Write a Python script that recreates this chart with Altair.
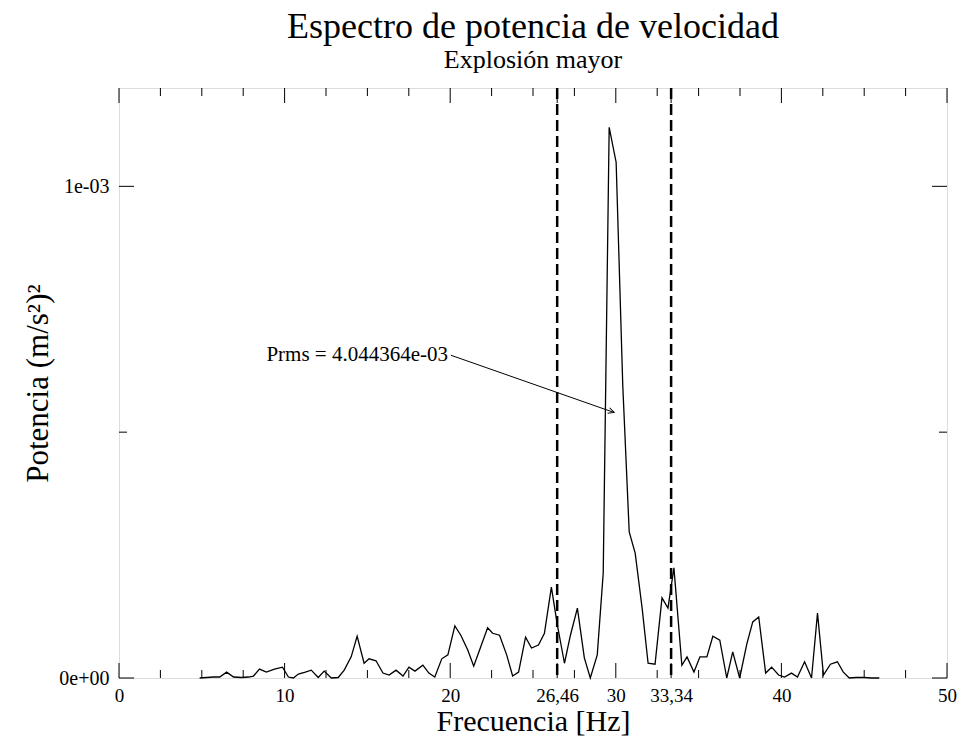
import altair as alt
import pandas as pd

# ---- data ----
freq = [4.87, 5.29, 5.72, 6.08, 6.50, 6.92, 7.40, 7.82, 8.12, 8.48, 8.90, 9.39, 9.87,
        10.23, 10.53, 10.83, 11.25, 11.61, 12.03, 12.39, 12.82, 13.24, 13.60, 14.02,
        14.38, 14.80, 15.10, 15.52, 15.94, 16.31, 16.73, 17.15, 17.51, 17.87, 18.35,
        18.71, 19.07, 19.49, 19.86, 20.28, 20.64, 21.06, 21.42, 21.84, 22.26, 22.56,
        22.98, 23.41, 23.77, 24.13, 24.55, 24.91, 25.33, 25.69, 26.11, 26.47, 26.90,
        27.26, 27.68, 28.10, 28.46, 28.88, 29.24, 29.60, 30.02, 30.42, 30.81, 31.17,
        31.59, 31.95, 32.37, 32.79, 33.15, 33.51, 33.99, 34.30, 34.72, 35.08, 35.50,
        35.86, 36.28, 36.70, 37.06, 37.48, 37.91, 38.27, 38.63, 39.05, 39.41, 39.83,
        40.19, 40.61, 40.97, 41.40, 41.82, 42.18, 42.54, 42.96, 43.38, 43.74, 44.10,
        44.52, 45.01, 45.43, 45.91]
# power in units of 1e-5 (m/s^2)^2
power_e5 = [0.0, 0.1, 0.2, 0.2, 1.2, 0.2, 0.1, 0.2, 0.4, 1.8, 1.2, 1.8, 2.2,
            0.2, 0.0, 0.8, 1.2, 1.6, 0.1, 1.4, 0.0, 0.1, 1.6, 4.3,
            8.5, 3.0, 3.9, 3.5, 1.0, 0.6, 1.6, 0.4, 2.2, 1.4, 2.6,
            1.0, 0.2, 3.9, 4.7, 10.6, 8.7, 5.7, 2.4, 6.3, 10.2, 9.1,
            8.7, 4.7, 0.4, 1.2, 8.3, 6.1, 6.7, 9.1, 18.5, 10.8, 3.0,
            8.7, 14.2, 4.1, 0.0, 4.7, 21.3, 112.0, 104.9, 59.6, 29.7, 25.4,
            14.2, 3.0, 2.8, 16.3, 14.2, 22.4, 2.6, 4.3, 1.2, 4.3, 4.3,
            8.5, 7.7, 0.0, 5.3, 0.0, 6.9, 11.4, 12.4, 1.0, 2.2, 0.6,
            0.2, 1.0, 0.2, 3.3, 0.0, 13.2, 0.6, 2.8, 3.3, 1.2, 0.0,
            0.1, 0.1, 0.0, 0.0]

band_edges = [26.46, 33.34]
x_label_values = [0, 10, 20, 26.46, 30, 33.34, 40, 50]
x_minor_ticks = [2.5, 5, 7.5, 12.5, 15, 17.5, 22.5, 25, 27.5, 32.5, 35, 37.5, 42.5, 45, 47.5]
x_major_ticks = [0, 10, 20, 26.46, 30, 33.34, 40, 50]
y_label_values = [0, 0.001]
y_major_ticks = [0, 0.001]
y_minor_ticks = [0.0005]

annot_text = "Prms = 4.044364e-03"
annot_pos = {"freq": 8.90, "power": 6.565e-4}
arrow_start = {"freq": 20.04, "power": 6.565e-4}
arrow_end = {"freq": 29.90, "power": 5.40e-4}
arrow_angle = 19.3

FONT = "Liberation Serif, Times New Roman, serif"
W, H = 828, 590

df = pd.DataFrame({"freq": freq, "power": [v * 1e-5 for v in power_e5]})

xscale = alt.Scale(domain=[0, 50], nice=False, zero=False)
yscale = alt.Scale(domain=[0, 0.0012], nice=False)

xaxis = alt.Axis(
    values=x_label_values,
    labelExpr="datum.value == 26.46 ? '26,46' : datum.value == 33.34 ? '33,34' : format(datum.value, 'd')",
    tickSize=0, domain=False, grid=False,
    labelFont=FONT, labelFontSize=19, labelColor="black", labelPadding=8,
    title="Frecuencia [Hz]", titleFont=FONT, titleFontSize=30, titleFontWeight="normal",
    titleColor="black", titlePadding=1, labelFlush=False, labelOverlap=False,
)
yaxis = alt.Axis(
    values=y_label_values,
    labelExpr="datum.value == 0 ? '0e+00' : '1e-03'",
    tickSize=0, domain=False, grid=False,
    labelFont=FONT, labelFontSize=20, labelColor="black", labelPadding=10,
    title="Potencia (m/s²)²", titleFont=FONT, titleFontSize=31, titleFontWeight="normal",
    titleColor="black", titlePadding=4, labelFlush=False, labelOverlap=False,
)

X = alt.X("freq:Q", scale=xscale, axis=xaxis)
Y = alt.Y("power:Q", scale=yscale, axis=yaxis)

line = alt.Chart(df).mark_line(color="black", strokeWidth=1.3).encode(x=X, y=Y)

bands = alt.Chart(pd.DataFrame({"freq": band_edges})).mark_rule(
    color="black", strokeWidth=2.5, strokeDash=[11, 5]
).encode(x=X)

def xticks(vals, length):
    d = pd.DataFrame({"freq": vals})
    bottom = alt.Chart(d).mark_rule(color="black", strokeWidth=1).encode(
        x=X, y=alt.value(H), y2=alt.value(H - length))
    top = alt.Chart(d).mark_rule(color="black", strokeWidth=1).encode(
        x=X, y=alt.value(0), y2=alt.value(length))
    return [bottom, top]

def yticks(vals, length):
    d = pd.DataFrame({"power": vals})
    left = alt.Chart(d).mark_rule(color="black", strokeWidth=1).encode(
        y=Y, x=alt.value(0), x2=alt.value(length))
    right = alt.Chart(d).mark_rule(color="black", strokeWidth=1).encode(
        y=Y, x=alt.value(W), x2=alt.value(W - length))
    return [left, right]

tick_layers = xticks(x_minor_ticks, 8) + xticks(x_major_ticks, 15) + \
    yticks(y_minor_ticks, 8) + yticks(y_major_ticks, 15)

annot = alt.Chart(pd.DataFrame([dict(annot_pos, label=annot_text)])).mark_text(
    font=FONT, fontSize=21, color="black", align="left", baseline="middle"
).encode(x=X, y=Y, text="label:N")

arrow_df = pd.DataFrame([{
    "freq": arrow_start["freq"], "power": arrow_start["power"],
    "freq2": arrow_end["freq"], "power2": arrow_end["power"],
}])
arrow = alt.Chart(arrow_df).mark_rule(color="black", strokeWidth=1).encode(
    x=X, y=Y, x2="freq2:Q", y2="power2:Q")

head = alt.Chart(pd.DataFrame([arrow_end])).mark_point(
    shape="M-1,-0.5L0,0L-1,0.5", filled=False, color="black", strokeWidth=1,
    size=140, angle=arrow_angle, opacity=1
).encode(x=X, y=Y)

chart = alt.layer(line, bands, *tick_layers, annot, arrow, head).properties(
    width=W, height=H,
    title=alt.TitleParams(
        text="Espectro de potencia de velocidad",
        subtitle="Explosión mayor",
        font=FONT, fontSize=36, fontWeight="normal", color="black",
        subtitleFont=FONT, subtitleFontSize=26, subtitleColor="black",
        anchor="middle", offset=13, subtitlePadding=1,
    ),
    autosize=alt.AutoSizeParams(type="none"),
    padding={"left": 111, "top": 80, "right": 11, "bottom": 58},
).configure_view(stroke="black", strokeWidth=1.5).configure(background="white")

chart.save("out.html", embed_options={"renderer": "svg", "actions": False})
